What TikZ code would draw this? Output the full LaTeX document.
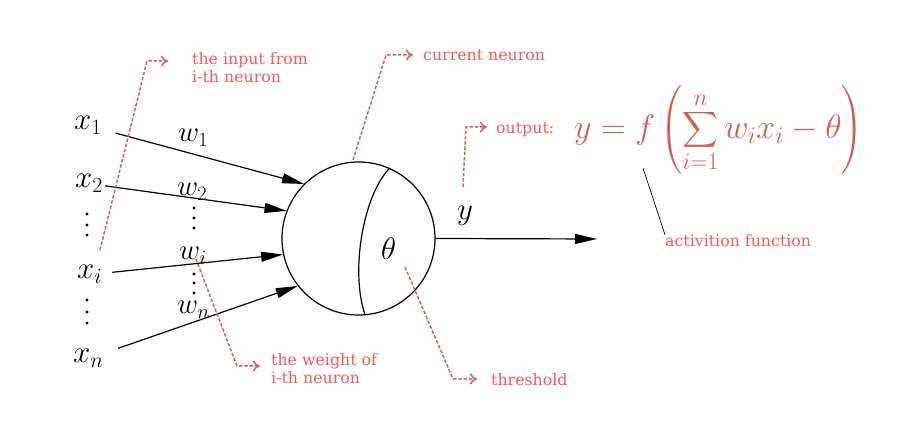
\RequirePackage{fix-cm}
\documentclass[tikz,border=0pt]{standalone}
\usepackage{amsmath}
\usepackage{fontspec}
\usepackage{xcolor}
\usetikzlibrary{arrows.meta,positioning,calc}
\newfontfamily\notefont{DejaVu Serif}
\definecolor{notered}{RGB}{240,90,95}
\definecolor{dashred}{RGB}{200,100,100}
\definecolor{formulared}{RGB}{205,95,80}
\tikzset{
  mathlbl/.style={font=\fontsize{31}{37}\selectfont, inner sep=0pt, anchor=base west},
  wlbl/.style={font=\fontsize{29}{35}\selectfont, inner sep=0pt, anchor=base west},
  note/.style={font=\notefont\fontsize{15.8}{18}\selectfont, text=notered, inner sep=0pt, anchor=base west, align=left},
  pointer/.style={dashred, line width=1.5pt, dash pattern=on 3.5pt off 1.8pt, -{To[length=7pt,width=11pt]}},
  signal/.style={line width=1.2pt, -{Triangle[length=22pt,width=10pt]}},
}

\begin{document}
\begin{tikzpicture}[x=1pt,y=-1pt]
\useasboundingbox (0,0) rectangle (911,427);

% inputs and weights
\node[mathlbl] (x1) at (74,130) {$x_1$};
\node[mathlbl] (x2) at (75,188) {$x_2$};
\node[mathlbl] (xi) at (77,279) {$x_i$};
\node[mathlbl] (xn) at (73,363) {$x_n$};
\node[wlbl] (w1) at (178,142) {$w_1$};
\node[wlbl] (w2) at (177,196) {$w_2$};
\node[wlbl] (wi) at (179,260) {$w_i$};
\node[wlbl] (wn) at (177,314) {$w_n$};
\foreach \y in {214,225,235,300,312,323} \fill (87,\y) circle (1.6pt);
\foreach \y in {208,218,228,274,283,293} \fill (194,\y) circle (1.6pt);

% the neuron
\node[draw, circle, line width=1.2pt, minimum size=153pt, inner sep=0pt] (neuron) at (358.5,238.5) {};
\draw[line width=1.2pt] (neuron.66.7) .. controls (363,195) and (350,272) .. (neuron.-85);
\node[mathlbl] (theta) at (381,260) {$\theta$};
\node[mathlbl] (y) at (457,220) {$y$};
\coordinate (yend) at (597,239);

\draw[signal, shorten <=14pt] (x1) -- (neuron.135.5);
\draw[signal, shorten <=2pt] (x2) -- (neuron.159.7);
\draw[signal, shorten <=10pt] (xi) -- (neuron.192);
\draw[signal, shorten <=15pt] (xn) -- (neuron.218);
\draw[signal] (neuron.east) -- (yend);

% formula
\node[font=\fontsize{34}{41}\selectfont, text=formulared, anchor=west, inner sep=0pt] (formula) at (574,130)
  {$\displaystyle y = f\left(\sum_{i=1}^{n} w_i x_i - \theta\right)$};

% notes
\node[note, anchor=north west] (in-note) at (192,52) {the input from\\i-th neuron};
\node[note] (cur-note) at (423,61) {current neuron};
\node[note] (out-note) at (496,134) {output:};
\node[note, anchor=north west] (wt-note) at (271,353) {the weight of\\i-th neuron};
\node[note] (th-note) at (491,386) {threshold};
\node[note] (act-note) at (665,247) {activition function};

\coordinate (in-foot) at (100,250);
\coordinate (in-bend) at (147,61);
\coordinate (in-tip) at (168,61);
\coordinate (cur-foot) at (353,160);
\coordinate (cur-bend) at (386,55);
\coordinate (cur-tip) at (413,55);
\coordinate (out-foot) at (463,187);
\coordinate (out-bend) at (466,127);
\coordinate (out-tip) at (487,127);
\coordinate (wt-foot) at (196,259);
\coordinate (wt-bend) at (237,366);
\coordinate (wt-tip) at (260,366);
\coordinate (th-foot) at (405,267);
\coordinate (th-bend) at (453,379);
\coordinate (th-tip) at (477,379);
\coordinate (f-foot) at (643,168);

\draw[pointer] (in-foot) -- (in-bend) -- (in-tip);
\draw[pointer] (cur-foot) -- (cur-bend) -- (cur-tip);
\draw[pointer] (out-foot) -- (out-bend) -- (out-tip);
\draw[pointer] (wt-foot) -- (wt-bend) -- (wt-tip);
\draw[pointer] (th-foot) -- (th-bend) -- (th-tip);
\draw[line width=0.7pt] (f-foot) -- (act-note.north west);
\end{tikzpicture}
\end{document}
